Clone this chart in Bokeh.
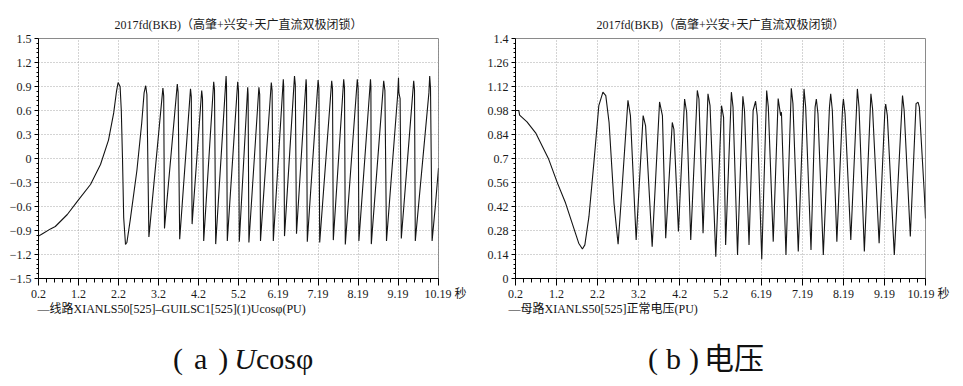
from bokeh.plotting import figure
from bokeh.models import FixedTicker, Range1d, Title, Div
from bokeh.layouts import row, column
from bokeh.embed import file_html
from bokeh.resources import INLINE

# ---------------- data ----------------
title_text = "2017fd(BKB)（高肇+兴安+天广直流双极闭锁）"

x_ticks = [0.2, 1.2, 2.2, 3.2, 4.2, 5.2, 6.19, 7.19, 8.19, 9.19, 10.19]
x_labels = ["0.2", "1.2", "2.2", "3.2", "4.2", "5.2", "6.19", "7.19", "8.19", "9.19", "10.19"]
unit_text = "秒"

u_ticks = [-1.5, -1.2, -0.9, -0.6, -0.3, 0, 0.3, 0.6, 0.9, 1.2, 1.5]
u_labels = ["−1.5", "−1.2", "−0.9", "−0.6", "−0.3", "0", "0.3", "0.6", "0.9", "1.2", "1.5"]

v_ticks = [0, 0.14, 0.28, 0.42, 0.56, 0.7, 0.84, 0.98, 1.12, 1.26, 1.4]
v_labels = ["0", "0.14", "0.28", "0.42", "0.56", "0.7", "0.84", "0.98", "1.12", "1.26", "1.4"]

# (a) line Ucos(phi), PU
u_t = [0.2, 0.3, 0.5, 0.62, 0.92, 1.18, 1.5, 1.75, 1.95, 2.08, 2.15, 2.19, 2.24, 2.27, 2.3, 2.33, 2.375,
       2.41, 2.49, 2.66, 2.78, 2.84, 2.88, 2.91, 2.93, 2.96,
       3.31, 3.33, 3.35, 3.67, 3.69, 3.73, 4.0, 4.02, 4.04, 4.28, 4.30, 4.33,
       4.58, 4.60, 4.63, 4.89, 4.90, 4.92, 5.18, 5.20, 5.22, 5.43, 5.44, 5.46,
       5.71, 5.73, 5.75, 6.02, 6.04, 6.07, 6.32, 6.33, 6.35, 6.60, 6.62, 6.65,
       6.89, 6.90, 6.92, 7.19, 7.21, 7.23, 7.53, 7.55, 7.57, 7.83, 7.85, 7.87,
       8.17, 8.19, 8.21, 8.50, 8.51, 8.52, 8.83, 8.86, 8.90, 9.18, 9.20, 9.21, 9.24, 9.27,
       9.58, 9.60, 9.62, 9.96, 9.98, 10.0, 10.04, 10.12, 10.2]
u_v = [-0.97, -0.94, -0.88, -0.85, -0.70, -0.53, -0.325, -0.075, 0.23, 0.57, 0.84, 0.95, 0.90, 0.60, 0.0, -0.74, -1.075,
       -1.05, -0.78, -0.15, 0.44, 0.82, 0.91, 0.80, 0.10, -0.98,
       0.88, 0.78, -0.875, 0.93, 0.83, -1.01, 0.87, 0.77, -0.82, 0.85, 0.75, -1.03,
       0.96, 0.86, -1.07, 1.03, 0.92, -1.03, 0.96, 0.85, -1.04, 0.89, 0.80, -1.05,
       0.89, 0.80, -1.03, 0.95, 0.85, -1.03, 0.99, 0.90, -0.97, 1.03, 0.92, -0.94,
       0.99, 0.90, -1.04, 0.98, 0.88, -1.05, 0.97, 0.87, -1.02, 0.99, 0.88, -1.075,
       0.99, 0.88, -1.03, 0.99, 0.90, -1.07, 0.97, 0.85, -1.03, 0.80, 1.01, 0.82, 0.75, -1.0,
       0.97, 0.86, -1.03, 0.82, 1.03, 0.88, -1.03, -0.60, -0.12]

# (b) bus voltage, PU
v_t = [0.2, 0.28, 0.3, 0.48, 0.69, 0.85, 1.01, 1.22, 1.42, 1.62, 1.74, 1.83, 1.89, 1.99, 2.11, 2.23,
       2.33, 2.4, 2.48, 2.6, 2.7, 2.8, 2.94, 3.0, 3.14, 3.31, 3.37, 3.53, 3.71, 3.78, 3.86,
       4.02, 4.06, 4.17, 4.32, 4.37, 4.47, 4.63, 4.67, 4.77, 4.89, 4.94, 5.08, 5.22, 5.27, 5.32,
       5.46, 5.5, 5.61, 5.74, 5.78, 5.89, 5.99, 6.05, 6.09, 6.2, 6.32, 6.36, 6.48,
       6.6, 6.66, 6.68, 6.79, 6.92, 6.96, 7.09, 7.23, 7.27, 7.4, 7.5, 7.53, 7.57, 7.7,
       7.85, 7.88, 7.92, 8.03, 8.17, 8.19, 8.23, 8.37, 8.53, 8.57, 8.7, 8.86, 8.9, 9.06,
       9.2, 9.22, 9.26, 9.43, 9.63, 9.67, 9.82, 9.96, 10.01, 10.04, 10.16, 10.19]
v_v = [0.98, 0.98, 0.953, 0.914, 0.85, 0.773, 0.695, 0.558, 0.44, 0.294, 0.206, 0.172, 0.196, 0.362, 0.676, 1.008,
       1.087, 1.067, 0.91, 0.44, 0.2, 0.54, 1.04, 0.95, 0.225, 0.95, 0.89, 0.186, 1.03, 0.95, 0.235,
       0.91, 0.87, 0.274, 1.047, 0.97, 0.225, 1.097, 1.047, 0.264, 1.077, 1.008, 0.127, 1.008, 0.94, 0.196,
       1.087, 1.0, 0.137, 1.063, 0.98, 0.196, 0.98, 1.034, 0.95, 0.112, 1.097, 1.0, 0.215,
       1.05, 0.95, 0.97, 0.137, 1.11, 1.02, 0.157, 1.106, 1.0, 0.166, 1.0, 1.047, 0.96, 0.137,
       1.0, 1.077, 0.98, 0.215, 1.0, 1.047, 0.96, 0.225, 1.106, 1.0, 0.157, 1.077, 0.99, 0.206,
       0.98, 1.018, 0.95, 0.137, 1.067, 0.98, 0.245, 1.02, 1.028, 1.0, 0.5, 0.35]

legend_a = "—线路XIANLS50[525]–GUILSC1[525](1)Ucosφ(PU)"
legend_b = "—母路XIANLS50[525]正常电压(PU)"

# ---------------- style ----------------
FONT = "Liberation Serif, Noto Sans CJK SC"
NB = "\u00a0"


def minor_between(ticks, n):
    out = []
    for a, b in zip(ticks[:-1], ticks[1:]):
        step = (b - a) / n
        out += [a + step * k for k in range(1, n)]
    return out


def make_fig(y_lo, y_hi, y_ticks, y_labels, x_hi, left, right, frame_w, xlab, legend, leg_off):
    p = figure(frame_width=frame_w, frame_height=240,
               min_border_left=left, min_border_right=right,
               min_border_top=38, min_border_bottom=52,
               x_range=Range1d(0.2, x_hi), y_range=Range1d(y_lo, y_hi),
               output_backend="svg", toolbar_location=None,
               background_fill_color="white", border_fill_color="white")
    p.outline_line_color = "#8a8a8a"
    p.outline_line_width = 1
    p.title.text = title_text
    p.title.align = "center"
    p.title.text_font = FONT
    p.title.text_font_size = "12px"
    p.title.text_font_style = "normal"
    p.title.text_color = "#1a1a1a"
    p.title.standoff = 13

    p.xaxis.ticker = FixedTicker(ticks=x_ticks, minor_ticks=minor_between(x_ticks, 5))
    p.xaxis.major_label_overrides = {t: l for t, l in zip(x_ticks, xlab)}
    p.yaxis.ticker = FixedTicker(ticks=y_ticks, minor_ticks=minor_between(y_ticks, 5))
    p.yaxis.major_label_overrides = {t: l for t, l in zip(y_ticks, y_labels)}

    for ax in (p.xaxis, p.yaxis):
        ax.axis_line_color = "black"
        ax.axis_line_width = 1
        ax.major_tick_line_color = "black"
        ax.minor_tick_line_color = "black"
        ax.minor_tick_line_width = 1
        ax.major_tick_in = 0
        ax.minor_tick_in = 0
        ax.major_label_text_font = FONT
        ax.major_label_text_font_size = "12px"
        ax.major_label_text_color = "#1a1a1a"
        ax.major_label_standoff = 3
    p.xaxis.major_label_standoff = 1
    p.xaxis.major_tick_out = 7
    p.xaxis.minor_tick_out = 4
    p.yaxis.major_tick_out = 4
    p.yaxis.minor_tick_out = 2

    for g in (p.xgrid, p.ygrid):
        g.grid_line_color = "#a8a8a8"
        g.grid_line_dash = "1 2"
        g.grid_line_width = 1

    p.add_layout(Title(text=legend, align="left", offset=leg_off, standoff=-7,
                       text_font=FONT, text_font_size="12px", text_font_style="normal",
                       text_color="#111111"), "below")
    return p


# ---------------- (a) ----------------
xlab_a = x_labels[:-1] + [NB * 5 + x_labels[-1] + " " + unit_text]
pa = make_fig(-1.5, 1.5, u_ticks, u_labels, 10.2, 38, 42, 400, xlab_a, legend_a, -1)
pa.line(u_t, u_v, line_color="#141414", line_width=1.1)

# ---------------- (b) ----------------
xlab_b = x_labels[:-1] + [NB * 2 + x_labels[-1] + " " + unit_text]
pb = make_fig(0, 1.4, v_ticks, v_labels, 10.19, 35, 30, 410, xlab_b, legend_b, -7)
pb.line(v_t, v_v, line_color="#141414", line_width=1.1)

# ---------------- captions ----------------
cap_style = "font-family:Liberation Serif, Noto Sans CJK SC; font-size:30px; line-height:36px; padding-top:11px; white-space:nowrap; color:#111111;"
cap_a = Div(text=f'<div style="{cap_style} padding-left:173px;">(<span style="margin:0 11px">a</span>)<i style="margin-left:6px">U</i>cosφ</div>',
            width=480, height=50, margin=0)
cap_b = Div(text=f'<div style="{cap_style} padding-left:168px;">(<span style="margin:0 8px">b</span>)<span style="margin-left:5px">电压</span></div>',
            width=475, height=50, margin=0)

layout = column(row(pa, pb), row(cap_a, cap_b))
open("out.html", "w").write(file_html(layout, INLINE))
